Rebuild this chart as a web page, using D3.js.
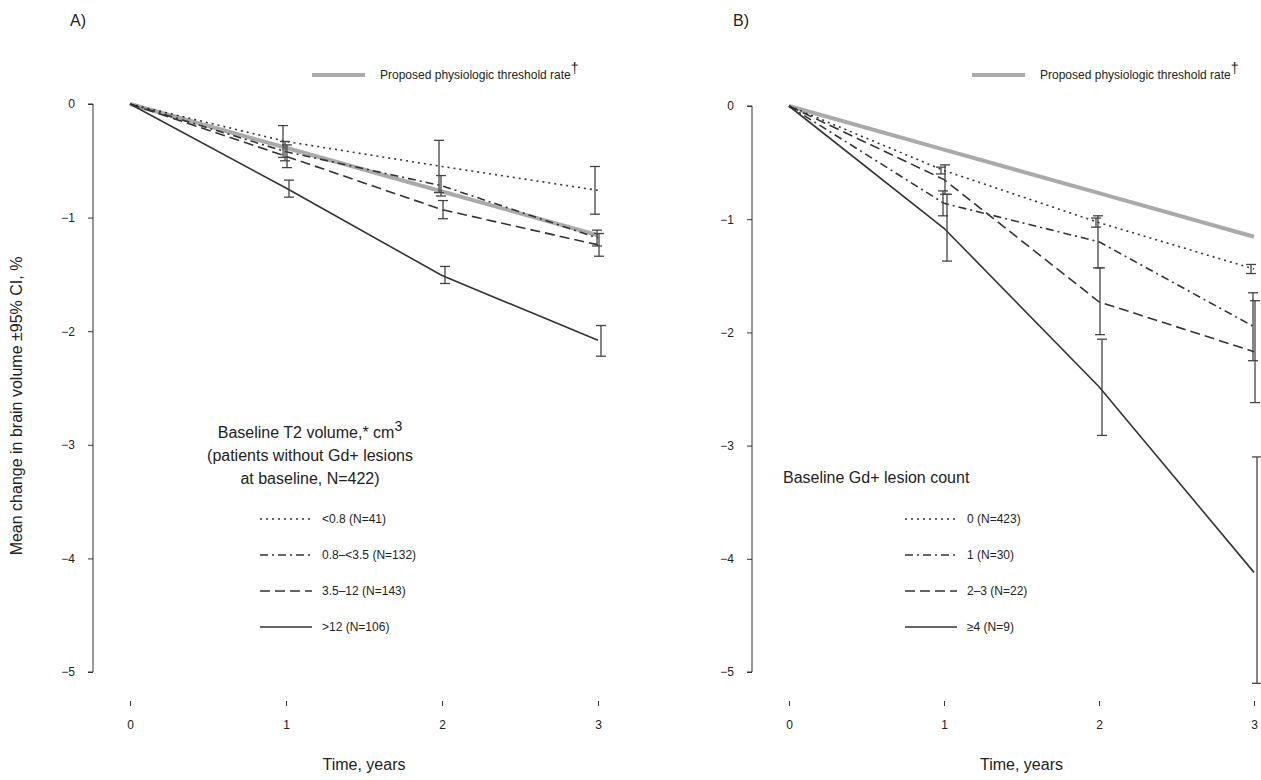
<!DOCTYPE html>
<html>
<head>
  <meta charset="utf-8">
  <script src="https://d3js.org/d3.v7.min.js"></script>
  <style>
    body { margin: 0; background: #fff; }
    text { font-family: "Liberation Sans", Arial, sans-serif; fill: #222; }
  </style>
</head>
<body>
<script>
  var years = [0, 1, 2, 3];
  var threshold = [0, -0.385, -0.77, -1.155];

  // panel A: mean, CI low, CI high per year
  var labelsA = ["<0.8 (N=41)", "0.8\u2013<3.5 (N=132)", "3.5\u201312 (N=143)", ">12 (N=106)"];
  var meanA = [[0, -0.33, -0.55, -0.76], [0, -0.42, -0.72, -1.18], [0, -0.46, -0.93, -1.24], [0, -0.74, -1.51, -2.08]];
  var hiA = [[0, -0.19, -0.32, -0.55], [0, -0.33, -0.63, -1.11], [0, -0.36, -0.85, -1.14], [0, -0.67, -1.43, -1.95]];
  var loA = [[0, -0.47, -0.78, -0.97], [0, -0.50, -0.81, -1.25], [0, -0.56, -1.01, -1.34], [0, -0.82, -1.58, -2.22]];

  var labelsB = ["0 (N=423)", "1 (N=30)", "2\u20133 (N=22)", "\u22654 (N=9)"];
  var meanB = [[0, -0.57, -1.03, -1.44], [0, -0.86, -1.20, -1.95], [0, -0.65, -1.73, -2.17], [0, -1.08, -2.48, -4.12]];
  var hiB = [[0, -0.54, -0.99, -1.40], [0, -0.75, -0.97, -1.65], [0, -0.52, -1.43, -1.72], [0, -0.78, -2.06, -3.10]];
  var loB = [[0, -0.60, -1.07, -1.48], [0, -0.97, -1.43, -2.25], [0, -0.78, -2.02, -2.62], [0, -1.37, -2.91, -5.10]];

  var yTicks = [0, -1, -2, -3, -4, -5];
  var dashes = ["2 4", "8 4 2 4", "10 5", null];

  var svg = d3.select("body").append("svg").attr("width", 1261).attr("height", 780);

  svg.append("text").attr("x", 22).attr("y", 406).attr("font-size", 16)
    .attr("text-anchor", "middle").attr("transform", "rotate(-90 22 406)")
    .text("Mean change in brain volume \u00b195% CI, %");

  function panel(o) {
    var x = d3.scaleLinear().domain([0, 3]).range([o.x0, o.x1]);
    var y = d3.scaleLinear().domain([0, -5]).range([o.y0, 672]);
    var g = svg.append("g");

    g.append("text").attr("x", o.lx).attr("y", 26).attr("font-size", 16).text(o.letter);

    var ya = g.append("g").attr("transform", "translate(" + o.ax + ",0)")
      .call(d3.axisLeft(y).tickValues(yTicks).tickSize(5).tickSizeOuter(0).tickFormat(d3.format("d")));
    ya.selectAll("text").attr("font-size", 12).attr("dx", -10);
    var xa = g.append("g").attr("transform", "translate(0,706)")
      .call(d3.axisBottom(x).tickValues(years).tickSize(-5).tickSizeOuter(0).tickFormat(d3.format("d")));
    xa.selectAll("text").attr("font-size", 12).attr("dy", 20);
    g.selectAll(".domain, .tick line").attr("stroke", "#333");
    xa.select(".domain").attr("d", "M" + o.x0 + ",701V706H" + o.x1 + "V701");
    ya.select(".domain").attr("d", "M-5," + o.y0 + "H0V672H-5");

    g.append("text").attr("x", (o.x0 + o.x1) / 2).attr("y", 770).attr("text-anchor", "middle")
      .attr("font-size", 16).text("Time, years");

    var line = d3.line().x(function (d, i) { return x(years[i]); }).y(function (d) { return y(d); });

    g.append("path").attr("d", line(threshold)).attr("fill", "none")
      .attr("stroke", "#aaa").attr("stroke-width", 4);

    o.mean.forEach(function (s, k) {
      g.append("path").attr("d", line(s)).attr("fill", "none").attr("stroke", "#333")
        .attr("stroke-width", 1.6).attr("stroke-dasharray", dashes[k]);
      [1, 2, 3].forEach(function (i) {
        var cx = x(years[i]) + (k - 1.5) * 2;
        var e = g.append("g").attr("stroke", "#444").attr("stroke-width", 1.3);
        e.append("line").attr("x1", cx).attr("x2", cx).attr("y1", y(o.hi[k][i])).attr("y2", y(o.lo[k][i]));
        [o.hi[k][i], o.lo[k][i]].forEach(function (v) {
          e.append("line").attr("x1", cx - 5).attr("x2", cx + 5).attr("y1", y(v)).attr("y2", y(v));
        });
      });
    });

    // threshold legend
    g.append("line").attr("x1", o.tl).attr("x2", o.tl + 53).attr("y1", 75).attr("y2", 75)
      .attr("stroke", "#aaa").attr("stroke-width", 4);
    var tt = g.append("text").attr("x", o.tl + 68).attr("y", 79).attr("font-size", 12)
      .text("Proposed physiologic threshold rate");
    tt.append("tspan").attr("dy", -6).attr("font-size", 14).text("\u2020");

    // series legend
    var tg = g.append("text").attr("font-size", 16).attr("text-anchor", o.tAnchor);
    o.title.forEach(function (t, i) {
      var ts = tg.append("tspan").attr("x", o.tx).attr("y", o.ty + i * 23).text(t);
      if (i === 0 && o.sup) ts.append("tspan").attr("dy", -7).attr("font-size", 14).text("3");
    });
    o.labels.forEach(function (lab, k) {
      var ly = 519 + k * 36;
      g.append("line").attr("x1", o.ll).attr("x2", o.ll + 52).attr("y1", ly).attr("y2", ly)
        .attr("stroke", "#333").attr("stroke-width", 1.6).attr("stroke-dasharray", dashes[k]);
      g.append("text").attr("x", o.ll + 62).attr("y", ly + 4).attr("font-size", 12).text(lab);
    });
  }

  panel({ letter: "A)", lx: 70, ax: 93, x0: 130, x1: 598, y0: 104, mean: meanA, hi: hiA, lo: loA,
    tl: 312, title: ["Baseline T2 volume,* cm", "(patients without Gd+ lesions", "at baseline, N=422)"],
    sup: true, tx: 310, ty: 438, tAnchor: "middle", labels: labelsA, ll: 260 });
  panel({ letter: "B)", lx: 733, ax: 752, x0: 789, x1: 1254, y0: 106, mean: meanB, hi: hiB, lo: loB,
    tl: 972, title: ["Baseline Gd+ lesion count"], sup: false, tx: 783, ty: 483, tAnchor: "start",
    labels: labelsB, ll: 905 });
</script>
</body>
</html>
